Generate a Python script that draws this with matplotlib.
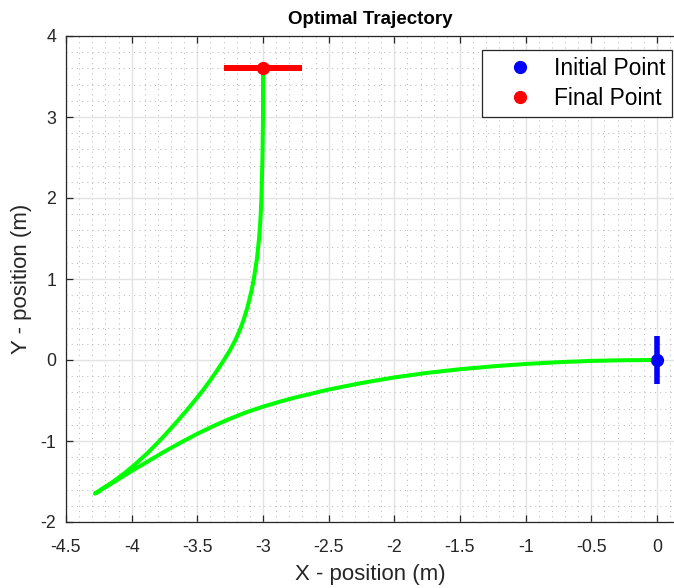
import matplotlib
matplotlib.use("Agg")
import matplotlib.pyplot as plt
from matplotlib.lines import Line2D
from matplotlib.ticker import MultipleLocator

plt.rcParams['font.family'] = ['Liberation Sans', 'DejaVu Sans']

# Trajectory: outgoing leg (initial point -> turnaround)
x_leg1 = [0.0, -0.25, -0.5, -0.75, -1.0, -1.25, -1.5, -1.75, -2.0, -2.25, -2.5,
          -2.75, -2.875, -3.0, -3.125, -3.25, -3.375, -3.5, -3.625, -3.75, -3.875,
          -4.0, -4.14, -4.28]
y_leg1 = [0.0, -0.003, -0.011, -0.027, -0.049, -0.078, -0.114, -0.159, -0.215, -0.284, -0.365,
          -0.461, -0.516, -0.576, -0.644, -0.724, -0.813, -0.911, -1.018, -1.13, -1.25,
          -1.37, -1.51, -1.65]
# Trajectory: return leg (turnaround -> final point)
x_leg2 = [-4.28, -4.139, -4.057, -3.982, -3.880, -3.789, -3.718, -3.649, -3.583, -3.519,
          -3.458, -3.401, -3.348, -3.297, -3.250, -3.209, -3.175, -3.147, -3.123, -3.103,
          -3.085, -3.070, -3.046, -3.030, -3.019, -3.012, -3.004, -3.0, -3.0]
y_leg2 = [-1.65, -1.5, -1.4, -1.3, -1.15, -1.0, -0.875, -0.75, -0.625, -0.5,
          -0.375, -0.25, -0.125, 0.0, 0.125, 0.25, 0.375, 0.5, 0.625, 0.75,
          0.875, 1.0, 1.25, 1.5, 1.75, 2.0, 2.5, 3.0, 3.6]

initial_point = (0.0, 0.0)
final_point = (-3.0, 3.6)
bar_half = 0.3

x_ticks = [-4.5, -4, -3.5, -3, -2.5, -2, -1.5, -1, -0.5, 0]
x_tick_labels = ['-4.5', '-4', '-3.5', '-3', '-2.5', '-2', '-1.5', '-1', '-0.5', '0']
y_ticks = [-2, -1, 0, 1, 2, 3, 4]
y_tick_labels = ['-2', '-1', '0', '1', '2', '3', '4']

W, H = 674, 588
fig = plt.figure(figsize=(W / 100, H / 100), dpi=100)
ax = fig.add_axes([66 / W, 1 - 522 / H, (W - 66) / W, (522 - 36) / H])

ax.set_xlim(-4.5, 0.1295)
ax.set_ylim(-2, 4)

ax.xaxis.set_minor_locator(MultipleLocator(0.1))
ax.yaxis.set_minor_locator(MultipleLocator(0.2))
ax.set_xticks(x_ticks)
ax.set_xticklabels(x_tick_labels)
ax.set_yticks(y_ticks)
ax.set_yticklabels(y_tick_labels)

ax.set_axisbelow(True)
ax.grid(which='major', color='#e3e3e3', linewidth=1.0, linestyle='-')
ax.grid(which='minor', color='#bcbcbc', linewidth=0.75, linestyle=(0, (1, 4)))

spine_col = '#262626'
for s in ['left', 'bottom', 'top']:
    ax.spines[s].set_color(spine_col)
    ax.spines[s].set_linewidth(0.9)
ax.spines['right'].set_visible(False)
ax.tick_params(which='major', direction='in', length=5, width=0.9, color=spine_col,
               top=True, right=False, labelsize=12.8, labelcolor=spine_col)
ax.tick_params(axis='x', which='major', pad=12)
ax.tick_params(axis='y', which='major', pad=7)
ax.tick_params(which='minor', length=0, top=False, right=False)

ax.plot(x_leg1 + x_leg2[1:], y_leg1 + y_leg2[1:], color='#00ff00', lw=2.9,
        solid_capstyle='round', solid_joinstyle='round', zorder=3)

# Orientation bars
ax.plot([initial_point[0], initial_point[0]],
        [initial_point[1] - bar_half, initial_point[1] + bar_half],
        color='#0000ff', lw=4.0, solid_capstyle='butt', clip_on=False, zorder=4)
ax.plot([final_point[0] - bar_half, final_point[0] + bar_half],
        [final_point[1], final_point[1]],
        color='#ff0000', lw=4.3, solid_capstyle='butt', clip_on=False, zorder=4)
ax.plot([initial_point[0]], [initial_point[1]], 'o', color='#0000ff', ms=8.5,
        clip_on=False, zorder=5)
ax.plot([final_point[0]], [final_point[1]], 'o', color='#ff0000', ms=8.5,
        clip_on=False, zorder=5)

ax.set_xlabel('X - position (m)', fontsize=16, color=spine_col, labelpad=6)
ax.set_ylabel('Y - position (m)', fontsize=16, color=spine_col, labelpad=6)
ax.set_title('Optimal Trajectory', fontsize=13.5, fontweight='bold', pad=9)

handles = [Line2D([], [], marker='o', ls='none', color='#0000ff', ms=8.5),
           Line2D([], [], marker='o', ls='none', color='#ff0000', ms=8.5)]
leg = ax.legend(handles, ['Initial Point', 'Final Point'], loc='upper right',
                bbox_to_anchor=(672 / W, 1 - 50 / H), bbox_transform=fig.transFigure,
                borderaxespad=0, fontsize=16.4, fancybox=False, framealpha=1,
                edgecolor=spine_col, handlelength=2.7, handletextpad=0.15,
                borderpad=0.3, labelspacing=0.3)
leg.get_frame().set_linewidth(0.9)
leg.set_zorder(10)

fig.savefig('out.png', dpi=100)
